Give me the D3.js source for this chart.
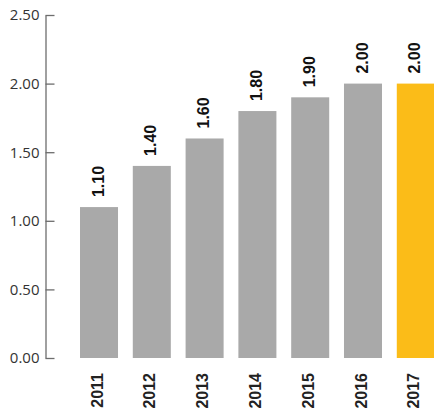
<!DOCTYPE html>
<html>
<head>
<meta charset="utf-8">
<script src="https://cdn.jsdelivr.net/npm/d3@7"></script>
<style>
  body { margin: 0; background: #fff; }
  svg { display: block; }
</style>
</head>
<body>
<svg id="chart"></svg>
<script>
// Data
const years = ['2011', '2012', '2013', '2014', '2015', '2016', '2017']
const values = [1.1, 1.4, 1.6, 1.8, 1.9, 2.0, 2.0]
const yTicks = [0, 0.5, 1, 1.5, 2, 2.5]
const highlightYear = '2017'

const width = 434
const height = 409
const axisX = 45.5
const baseY = 358
const topY = 15

const svg = d3.select('#chart')
  .attr('width', width)
  .attr('height', height)

const y = d3.scaleLinear().domain([0, 2.5]).range([baseY, topY])

// Bands run past the right edge, last bar gets clipped like in the original
const x = d3.scaleBand()
  .domain(years)
  .range([53.6, 461.2])
  .paddingInner(0.28)
  .paddingOuter(0.5)

// Y axis, ticks point into the plot
const yAxis = d3.axisLeft(y)
  .tickValues(yTicks)
  .tickFormat(d3.format('.2f'))
  .tickSizeInner(-9)
  .tickSizeOuter(0)
  .tickPadding(6)

const gy = svg.append('g')
  .attr('transform', `translate(${axisX},0)`)
  .call(yAxis)

gy.select('.domain').attr('stroke', '#6d6d6d').attr('stroke-width', 1.3)
gy.selectAll('.tick line').attr('stroke', '#6d6d6d').attr('stroke-width', 1.3)
gy.selectAll('.tick text')
  .attr('fill', '#333')
  .style('font-family', '"Open Sans", sans-serif')
  .style('font-size', '15px')

// Bars
svg.selectAll('.bar')
  .data(years)
  .enter()
  .append('rect')
  .attr('class', 'bar')
  .attr('x', d => x(d))
  .attr('width', x.bandwidth())
  .attr('y', (d, i) => y(values[i]))
  .attr('height', (d, i) => baseY - y(values[i]))
  .attr('fill', d => (d === highlightYear ? '#fbbc18' : '#a9a9a9'))

// Value labels, rotated above each bar
svg.selectAll('.value-label')
  .data(years)
  .enter()
  .append('text')
  .attr('class', 'value-label')
  .attr('transform', (d, i) =>
    `translate(${x(d) + x.bandwidth() / 2 - 1},${y(values[i]) - 10}) rotate(-90)`)
  .attr('dy', '0.35em')
  .attr('text-anchor', 'start')
  .attr('fill', '#111')
  .style('font-family', '"Liberation Sans", Arial, sans-serif')
  .style('font-weight', 'bold')
  .style('font-size', '16px')
  .text((d, i) => d3.format('.2f')(values[i]))

// Category labels, rotated under the baseline
svg.selectAll('.year-label')
  .data(years)
  .enter()
  .append('text')
  .attr('class', 'year-label')
  .attr('transform', d =>
    `translate(${x(d) + x.bandwidth() / 2 - 2},${baseY + 15}) rotate(-90)`)
  .attr('dy', '0.35em')
  .attr('text-anchor', 'end')
  .attr('fill', '#222')
  .style('font-family', '"Liberation Sans", Arial, sans-serif')
  .style('font-weight', 'bold')
  .style('font-size', '16px')
  .text(d => d)
</script>
</body>
</html>
